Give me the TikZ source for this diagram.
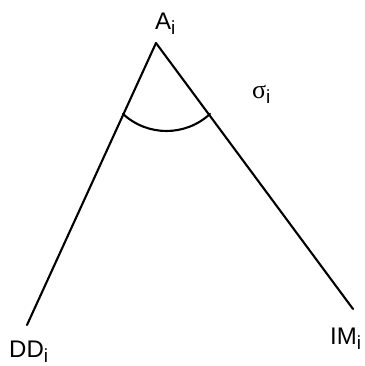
\documentclass[tikz,border=0pt]{standalone}
\usepackage{fontspec}
\usetikzlibrary{calc}
\setmainfont{Liberation Sans}
\newfontfamily\greekfont{Liberation Serif}
\newcommand{\subi}{\raisebox{-4.5pt}{\fontsize{19}{19}\selectfont i}}
\begin{document}
\begin{tikzpicture}[x=1pt,y=1pt,
  lbl/.style={inner sep=0pt, anchor=base west, font=\fontsize{24}{26}\selectfont},
  edge/.style={line width=2.1pt, line cap=round}]
\useasboundingbox (0,0) rectangle (364,366);
\coordinate (apex) at (156,323);
\coordinate (lend) at (27,41);
\coordinate (rend) at (353,57);
\node[lbl] (A) at (155,336) {A\subi};
\node[lbl] (DD) at (9,8.5) {DD\subi};
\node[lbl] (IM) at (330,21) {IM\subi};
\node[lbl] (sig) at (252,267) {{\greekfont\fontsize{26}{26}\selectfont σ}\subi};
\draw[edge] (apex) -- (lend);
\draw[edge] (apex) -- (rend);
\coordinate (arcc) at (166.5,299);
\draw[edge] ($(arcc)+(227.2:64)$) arc[start angle=227.2, end angle=312.8, radius=64];
\end{tikzpicture}
\end{document}
